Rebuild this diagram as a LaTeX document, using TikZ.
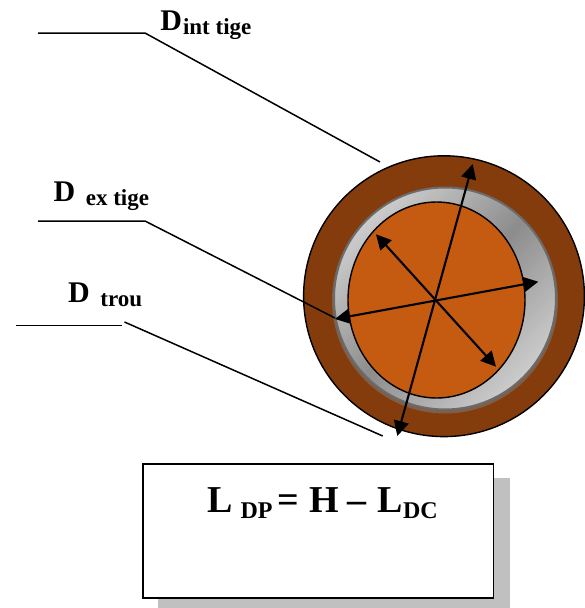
\documentclass[tikz,border=0pt]{standalone}
\usepackage{fontspec}
\setmainfont{Liberation Serif}
\usetikzlibrary{arrows.meta}
\definecolor{pipeout}{HTML}{843C0C}
\definecolor{pipein}{HTML}{C55A11}
\definecolor{shadowgray}{HTML}{C0C0C0}
\tikzset{
  leader/.style={draw=black,line width=1.5pt},
  dimarrow/.style={draw=black,line width=2.1pt,{Triangle[length=15pt,width=15pt]}-{Triangle[length=15pt,width=15pt]}},
  rim/.style={draw=black,line width=1.4pt},
  lab/.style={inner sep=0pt,anchor=base west,font=\bfseries},
}
\newcommand{\bigD}{\fontsize{30}{30}\selectfont D}
\newcommand{\subtxt}[1]{\raisebox{-4pt}{\fontsize{23}{23}\selectfont #1}}
\newcommand{\eqL}[1]{\fontsize{38}{38}\selectfont #1}
\newcommand{\eqS}[1]{\raisebox{-5.5pt}{\fontsize{24}{24}\selectfont #1}}
\begin{document}
\begin{tikzpicture}[x=1pt,y=-1pt]
\useasboundingbox (0,0) rectangle (585,608);
\clip (0,0) rectangle (585,608);
% pipe
\path[rim,fill=pipeout] (444,296.2) circle (140.4);
\fill[color={rgb,255:red,125;green,95;blue,75}] (445,300.5) circle (113);
\shade[top color=black!20,bottom color=black!20,middle color=black!45,shading angle=45,draw=black!58,line width=2pt] (445,298.5) circle (111);
\path[rim,fill=pipein] (436.5,300) ellipse (88.5 and 98);
% dimension arrows
\coordinate (c1) at (472.7,164);
\coordinate (c2) at (397.3,436);
\coordinate (c3) at (335,319);
\coordinate (c4) at (538.3,281.7);
\coordinate (c5) at (376,234.3);
\coordinate (c6) at (496,366.7);
\draw[dimarrow] (c1) -- (c2);
\draw[dimarrow] (c3) -- (c4);
\draw[dimarrow] (c5) -- (c6);
% leaders
\coordinate (a1) at (38,33); \coordinate (a2) at (145,33); \coordinate (a3) at (380,162);
\coordinate (b1) at (38,221); \coordinate (b2) at (145,221); \coordinate (b3) at (335,318);
\coordinate (d1) at (16,325.5); \coordinate (d2) at (122,325.5);
\coordinate (e1) at (124.5,322); \coordinate (e2) at (382.7,436);
\draw[leader] (a1) -- (a2) -- (a3);
\draw[leader] (b1) -- (b2) -- (b3);
\draw[leader] (d1) -- (d2);
\draw[leader] (e1) -- (e2);
% labels
\node[lab] (dint) at (160.2,30) {\bigD\kern1pt\subtxt{int tige}};
\node[lab] (dex) at (53.5,201.7) {\bigD\kern10.5pt\subtxt{ex tige}};
\node[lab] (dtrou) at (68,302.7) {\bigD\kern10.5pt\subtxt{trou}};
% formula box
\fill[shadowgray] (158,478) rectangle (510,613);
\node[draw=black,line width=1.8pt,fill=white,minimum width=350.6pt,minimum height=134pt,inner sep=0pt,anchor=north west] (box) at (142,463) {};
\node[lab] (eq) at (207,512.7) {\eqL{L}\kern8pt\eqS{DP}\kern5pt\eqL{=}\kern10pt\eqL{H}\kern9pt\eqL{–}\kern11pt\eqL{L}\eqS{DC}};
\end{tikzpicture}
\end{document}
